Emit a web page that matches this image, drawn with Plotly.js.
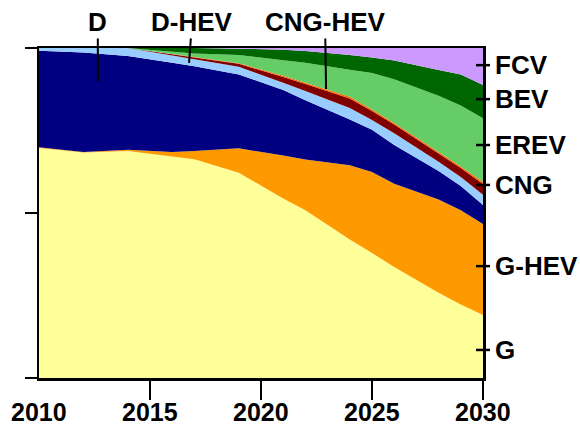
<!DOCTYPE html>
<html>
<head>
<meta charset="utf-8">
<script src="https://cdn.plot.ly/plotly-3.0.1.min.js"></script>
<style>html,body{margin:0;padding:0;background:#fff;}#chart{width:580px;height:426px;}</style>
</head>
<body>
<div id="chart"></div>
<script>
// Years (x values)
const years = [2010, 2012, 2014, 2016, 2017, 2019, 2021, 2022, 2024, 2025, 2026, 2028, 2029, 2030];

// Market share of each powertrain (fractions, stacked bottom to top)
const G       = [0.697, 0.683, 0.688, 0.671, 0.663, 0.622, 0.544, 0.508, 0.420, 0.379, 0.336, 0.258, 0.223, 0.191];
const G_HEV   = [0.002, 0.002, 0.004, 0.014, 0.025, 0.074, 0.130, 0.154, 0.225, 0.245, 0.253, 0.283, 0.285, 0.276];
const D       = [0.293, 0.301, 0.284, 0.270, 0.257, 0.224, 0.199, 0.180, 0.138, 0.128, 0.117, 0.086, 0.074, 0.057];
const D_HEV   = [0.008, 0.014, 0.024, 0.022, 0.021, 0.023, 0.022, 0.028, 0.035, 0.030, 0.036, 0.028, 0.027, 0.031];
const CNG     = [0.000, 0.000, 0.000, 0.004, 0.005, 0.009, 0.017, 0.021, 0.029, 0.027, 0.026, 0.025, 0.027, 0.033];
const CNG_HEV = [0.000, 0.000, 0.000, 0.001, 0.002, 0.002, 0.004, 0.004, 0.005, 0.005, 0.005, 0.005, 0.005, 0.006];
const EREV    = [0.000, 0.000, 0.000, 0.007, 0.010, 0.025, 0.047, 0.060, 0.082, 0.110, 0.132, 0.170, 0.185, 0.193];
const BEV     = [0.000, 0.000, 0.000, 0.011, 0.017, 0.019, 0.032, 0.036, 0.045, 0.047, 0.057, 0.078, 0.094, 0.101];
const FCV     = [0.000, 0.000, 0.000, 0.000, 0.000, 0.002, 0.005, 0.009, 0.021, 0.029, 0.038, 0.067, 0.080, 0.112];

// Axis tick labels
const xTickVals = [2010, 2015, 2020, 2025, 2030];
const xTickText = ['2010', '2015', '2020', '2025', '2030'];
const rightLabels = ['G', 'G-HEV', 'CNG', 'EREV', 'BEV', 'FCV'];
const rightLabelPos = [0.085, 0.339, 0.585, 0.706, 0.845, 0.948];

// Top callout labels: text, year pointed at, share level pointed at
const calloutText = ['D', 'D-HEV', 'CNG-HEV'];
const calloutYear = [2012.65, 2016.76, 2022.93];
const calloutLevel = [0.900, 0.955, 0.876];

const series = [
  {name: 'G', y: G, color: '#FFFF99'},
  {name: 'G-HEV', y: G_HEV, color: '#FF9900'},
  {name: 'D', y: D, color: '#000080'},
  {name: 'D-HEV', y: D_HEV, color: '#99CCFF'},
  {name: 'CNG', y: CNG, color: '#800000'},
  {name: 'CNG-HEV', y: CNG_HEV, color: '#FF6600'},
  {name: 'EREV', y: EREV, color: '#66CC66'},
  {name: 'BEV', y: BEV, color: '#006600'},
  {name: 'FCV', y: FCV, color: '#CC99FF'}
];

const traces = series.map(s => ({
  type: 'scatter', x: years, y: s.y, name: s.name,
  stackgroup: 'one', mode: 'none', fillcolor: s.color,
  hoverinfo: 'skip', showlegend: false
}));

const FONT = 'Liberation Sans, Arial, Helvetica, sans-serif';
const labelFont = {family: FONT, size: 26, color: '#000', weight: 'bold'};
const xLabelFont = {family: FONT, size: 25, color: '#000', weight: 'bold'};

const PLOT_W = 444;

const annotations = [];
// Top callouts with leader lines
calloutText.forEach((t, i) => annotations.push({
  x: calloutYear[i], y: calloutLevel[i], xref: 'x', yref: 'y',
  text: t, showarrow: true, arrowhead: 0, arrowwidth: 2, arrowcolor: '#000',
  ax: [0, 3, -1][i], ay: [-59, -41, -67][i], standoff: 0,
  font: labelFont
}));
// X tick labels
xTickVals.forEach((v, i) => annotations.push({
  x: v, y: 0, xref: 'x', yref: 'paper', yanchor: 'top', yshift: -18,
  text: xTickText[i], showarrow: false, font: xLabelFont
}));
// Right-side series labels
rightLabels.forEach((t, i) => annotations.push({
  x: 1 + 10 / PLOT_W, y: rightLabelPos[i], xref: 'paper', yref: 'paper',
  xanchor: 'left', yanchor: 'middle',
  text: t, showarrow: false, font: labelFont
}));

// Right-side label ticks crossing the axis
const shapes = rightLabelPos.map(p => ({
  type: 'line', xref: 'paper', yref: 'paper',
  x0: 1 - 7 / PLOT_W, x1: 1 + 7 / PLOT_W, y0: p, y1: p,
  line: {color: '#000', width: 2.5}
}));

const layout = {
  width: 580, height: 426,
  margin: {l: 39, r: 97, t: 48, b: 48, pad: 0},
  paper_bgcolor: '#fff', plot_bgcolor: '#fff',
  showlegend: false,
  xaxis: {
    range: [2010, 2030], showgrid: false, zeroline: false,
    showline: true, linecolor: '#000', linewidth: 2.5, mirror: true,
    ticks: 'outside', ticklen: 19, tickwidth: 2.5, tickcolor: '#000',
    tickvals: xTickVals.slice(1), showticklabels: false
  },
  yaxis: {
    range: [0, 1], showgrid: false, zeroline: false,
    showline: true, linecolor: '#000', linewidth: 2.5, mirror: true,
    ticks: 'outside', ticklen: 12, tickwidth: 2.5, tickcolor: '#000',
    tickvals: [0, 0.5, 1], showticklabels: false
  },
  annotations: annotations,
  shapes: shapes
};

Plotly.newPlot('chart', traces, layout, {displayModeBar: false, staticPlot: true});
</script>
</body>
</html>
